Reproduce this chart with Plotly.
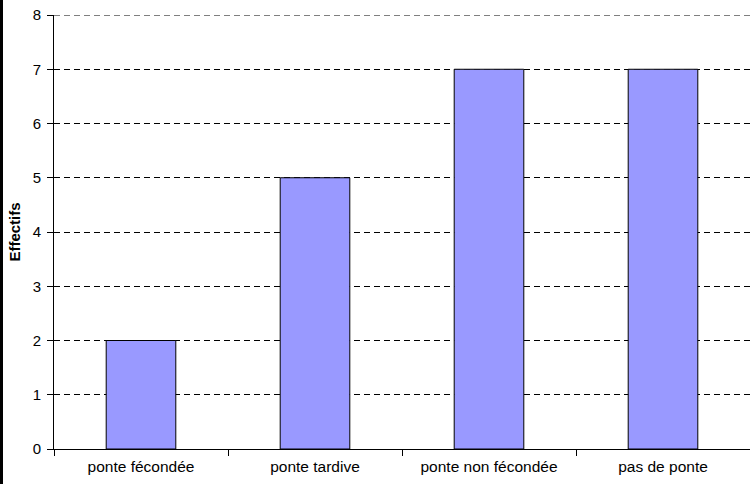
import plotly.graph_objects as go

categories = ["ponte fécondée", "ponte tardive", "ponte non fécondée", "pas de ponte"]
effectifs = [2, 5, 7, 7]
y_ticks = [0, 1, 2, 3, 4, 5, 6, 7, 8]

fig = go.Figure()
fig.add_trace(go.Bar(
    x=categories, y=effectifs,
    marker=dict(color="#9999FF", line=dict(color="#000000", width=1)),
    width=0.4,
))

fig.update_layout(
    width=750, height=484,
    margin=dict(l=54, r=0, t=15, b=35),
    paper_bgcolor="white", plot_bgcolor="white",
    font=dict(family="Liberation Sans, Arial, sans-serif", size=15, color="black"),
    showlegend=False,
    shapes=[
        dict(type="rect", xref="paper", yref="paper",
             x0=-54/696, x1=-51/696, y0=-35/434, y1=1+15/434,
             fillcolor="black", line=dict(width=0), layer="above"),
        dict(type="line", xref="paper", yref="y",
             x0=0, x1=1, y0=max(y_ticks), y1=max(y_ticks),
             line=dict(color="black", width=1, dash="6px,4px"), layer="below"),
    ],
)
fig.update_xaxes(
    type="category", range=[-0.5, 3.5],
    showline=True, linecolor="black", linewidth=1,
    ticks="outside", tickson="boundaries", ticklen=6, tickcolor="black",
    showgrid=False, tickfont=dict(size=15.5), ticklabelstandoff=3,
)
fig.update_yaxes(
    range=[0, max(y_ticks)], tickvals=y_ticks,
    showline=True, linecolor="black", linewidth=1,
    ticks="outside", ticklen=6, tickcolor="black",
    showgrid=True, gridcolor="black", gridwidth=1, griddash="6px,4px",
    zeroline=False,
    title=dict(text="<b>Effectifs</b>", font=dict(size=15), standoff=8),
    tickfont=dict(size=15), ticklabelstandoff=3,
)
fig.write_html("out.html")
